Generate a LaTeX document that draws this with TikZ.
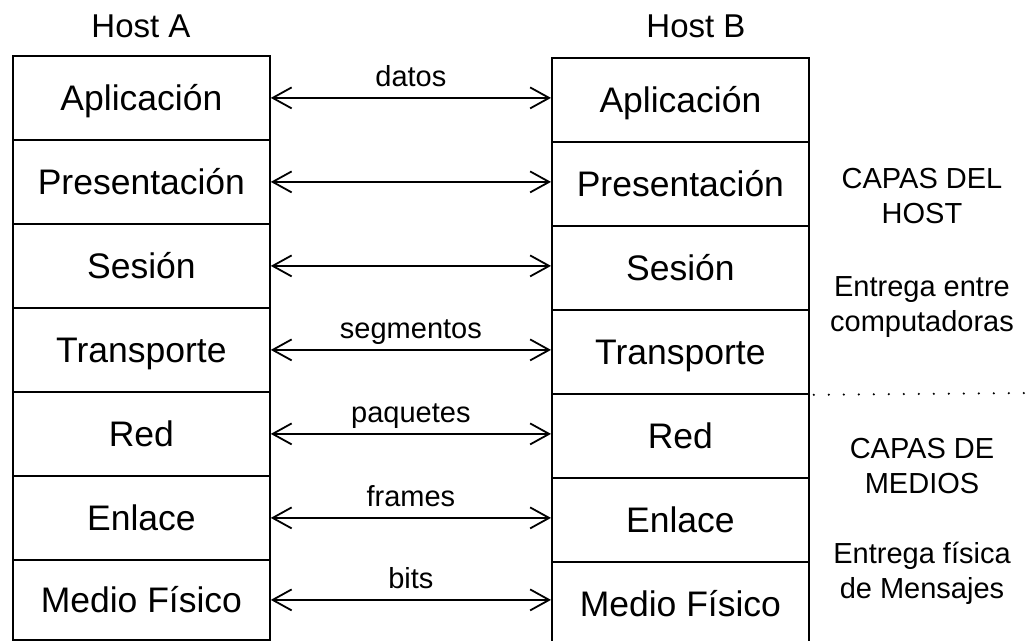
\documentclass[tikz,border=0pt]{standalone}
\usepackage{fontspec}
\setmainfont{Liberation Sans}
\usetikzlibrary{arrows.meta}
\begin{document}
\begin{tikzpicture}[x=1pt,y=-1pt,
  layer/.style={draw, line width=1.8pt, minimum width=257pt, minimum height=84pt,
    inner sep=0pt, font=\fontsize{35.5}{42}\selectfont, text height=25pt, text depth=0pt,
    anchor=north west},
  hostlbl/.style={font=\fontsize{33}{40}\selectfont, anchor=base, inner sep=0pt},
  conn/.style={line width=1.8pt, {Straight Barb[length=19pt,width=21pt]}-{Straight Barb[length=19pt,width=21pt]}},
  connlbl/.style={font=\fontsize{29}{35}\selectfont, anchor=base, inner sep=0pt, yshift=11pt},
  side/.style={font=\fontsize{29}{35}\selectfont, anchor=base, inner sep=0pt, align=center},
  sep/.style={line width=2.4pt, line cap=round, dash pattern=on 0pt off 15pt}]
\useasboundingbox (0,0) rectangle (1032,640);
\fill[white] (0,0) rectangle (1032,640);
% Host A
\node[hostlbl] (ha) at (141,37) {Host A};
\node[layer] (A1) at (12,55) {Aplicación};
\node[layer] (A2) at (12,139) {Presentación};
\node[layer] (A3) at (12,223) {Sesión};
\node[layer] (A4) at (12,307) {Transporte};
\node[layer] (A5) at (12,391) {Red};
\node[layer] (A6) at (12,475) {Enlace};
\node[layer, minimum height=80pt] (A7) at (12,559) {Medio Físico};
% Host B
\node[hostlbl] (hb) at (696,37) {Host B};
\node[layer] (B1) at (551,57) {Aplicación};
\node[layer] (B2) at (551,141) {Presentación};
\node[layer] (B3) at (551,225) {Sesión};
\node[layer] (B4) at (551,309) {Transporte};
\node[layer] (B5) at (551,393) {Red};
\node[layer] (B6) at (551,477) {Enlace};
\node[layer] (B7) at (551,561) {Medio Físico};
% connectors
\draw[conn] (A1.east) -- (A1.east -| B1.west) node[connlbl, midway] {datos};
\draw[conn] (A2.east) -- (A2.east -| B2.west);
\draw[conn] (A3.east) -- (A3.east -| B3.west);
\draw[conn] (A4.east) -- (A4.east -| B4.west) node[connlbl, midway] {segmentos};
\draw[conn] (A5.east) -- (A5.east -| B5.west) node[connlbl, midway] {paquetes};
\draw[conn] (A6.east) -- (A6.east -| B6.west) node[connlbl, midway] {frames};
\draw[conn] (A7.east) -- (A7.east -| B7.west) node[connlbl, midway] {bits};
% separator
\coordinate (sepend) at (1032,393);
\draw[sep] (B4.south east) ++(4,0) -- (sepend);
% side texts (anchor base = last line baseline)
\node[side] (s1) at (922,223) {CAPAS DEL\\HOST};
\node[side] (s2) at (922,331) {Entrega entre\\computadoras};
\node[side] (s3) at (922,493) {CAPAS DE\\MEDIOS};
\node[side] (s4) at (922,598) {Entrega física\\de Mensajes};
\end{tikzpicture}
\end{document}
